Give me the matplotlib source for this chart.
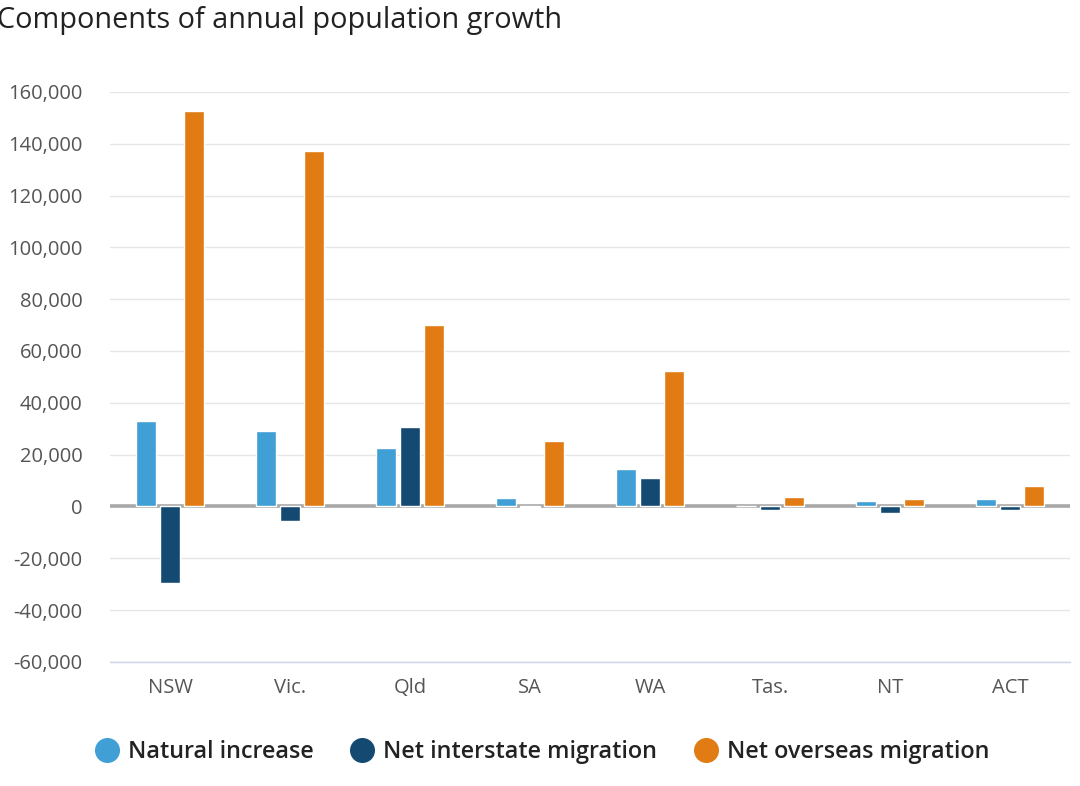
import matplotlib
matplotlib.use("Agg")
import numpy as np
import matplotlib.pyplot as plt
from matplotlib.lines import Line2D
from matplotlib.ticker import FuncFormatter

plt.rcParams['font.family'] = ['Open Sans', 'DejaVu Sans']

states = ['NSW', 'Vic.', 'Qld', 'SA', 'WA', 'Tas.', 'NT', 'ACT']
natural_increase = [32800, 29300, 22700, 3100, 14300, 100, 2200, 2700]
net_interstate = [-29700, -5600, 30500, -300, 10800, -1400, -2600, -1400]
net_overseas = [152700, 137200, 70200, 25400, 52400, 3800, 2700, 7700]

series = [
    ('Natural increase', natural_increase, '#409fd4'),
    ('Net interstate migration', net_interstate, '#144a72'),
    ('Net overseas migration', net_overseas, '#e07c13'),
]

fig = plt.figure(figsize=(10.8, 7.86), dpi=100)
ax = fig.add_axes([0.102, 0.158, 0.889, 0.725])

x = np.arange(len(states))
width = 0.17
offsets = [-0.2, 0.0, 0.2]
for (name, vals, col), off in zip(series, offsets):
    ax.bar(x + off, vals, width, color=col, edgecolor='white', linewidth=1, zorder=3)

# zero plot line behind the bars
ax.axhline(0, color='#a8a8a8', lw=2.6, zorder=2)

ax.set_xlim(-0.5, len(states) - 0.5)
ax.set_ylim(-60000, 160000)
ax.set_yticks(np.arange(-60000, 160001, 20000))
ax.yaxis.set_major_formatter(FuncFormatter(lambda v, p: f'{int(v):,}'))
ax.set_xticks(x)
ax.set_xticklabels(states)

ax.grid(axis='y', color='#e6e6e6', lw=1, zorder=0)
ax.set_axisbelow(True)
for s in ['top', 'right', 'left']:
    ax.spines[s].set_visible(False)
ax.spines['bottom'].set_color('#ccd6eb')
ax.spines['bottom'].set_linewidth(1)
ax.tick_params(axis='y', length=0, labelsize=14.5, labelcolor='#555555', pad=20)
ax.tick_params(axis='x', length=0, labelsize=14.5, labelcolor='#555555', pad=12)

fig.text(-0.003, 0.992, 'Components of annual population growth', fontsize=20.8,
         color='#222222', va='top', ha='left')

handles = [Line2D([], [], marker='o', ls='', markersize=17, markerfacecolor=c,
                  markeredgecolor=c) for _, _, c in series]
fig.legend(handles, [n for n, _, _ in series], loc='center', bbox_to_anchor=(0.499, 0.043),
           ncol=3, frameon=False, handletextpad=0.1, columnspacing=1.3, handlelength=1.6,
           prop={'size': 16.8, 'weight': 'semibold'}, labelcolor='#222222')

fig.savefig('out.png', dpi=100)
